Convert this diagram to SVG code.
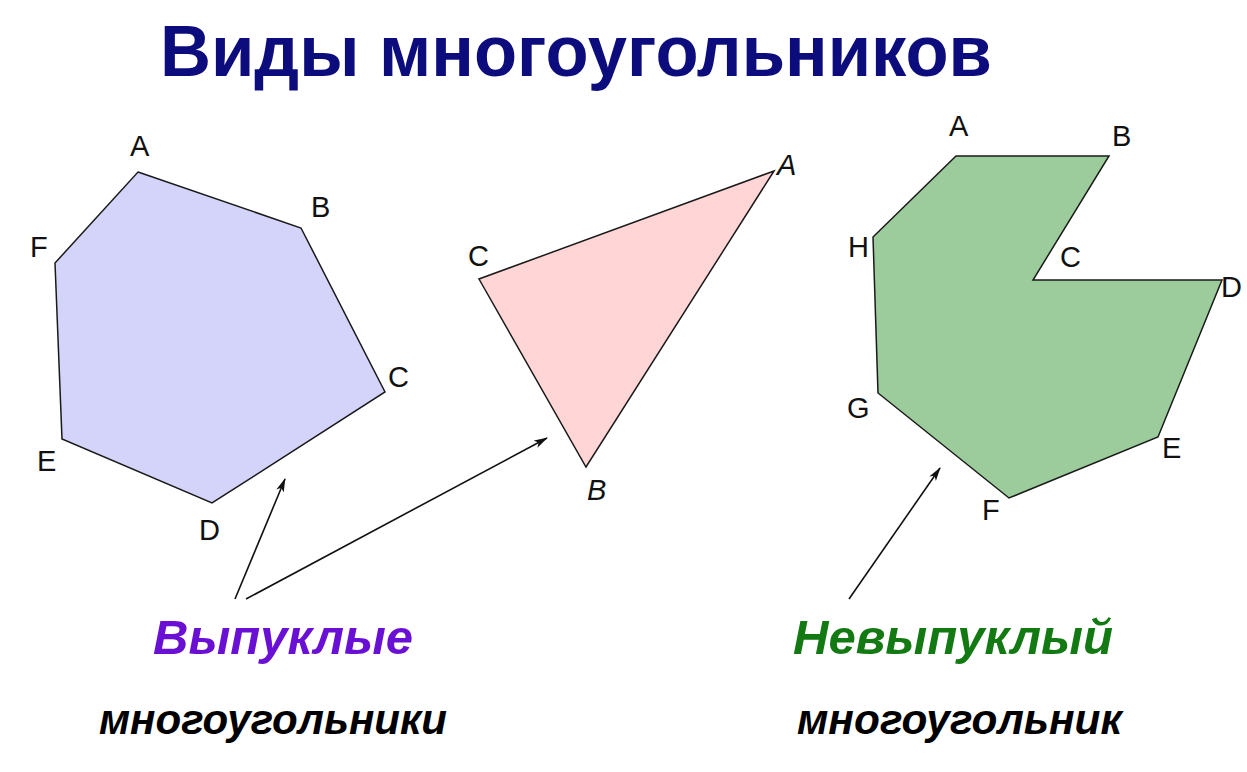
<svg xmlns="http://www.w3.org/2000/svg" width="1247" height="772" viewBox="0 0 1247 772">
<style>
.poly{stroke:#1a1a1a;stroke-width:1.5;stroke-linejoin:miter}
.lbl{font-family:"Liberation Sans",Arial,sans-serif;font-size:29px;fill:#111}
.it{font-style:italic}
.big{font-family:"Liberation Sans",Arial,sans-serif;font-weight:bold;font-style:italic}
.conn{stroke:#111;stroke-width:1.6;fill:none}
</style>
<defs>
<marker id="ah" viewBox="0 0 14 9" refX="13" refY="4.5" markerWidth="14" markerHeight="9" markerUnits="userSpaceOnUse" orient="auto">
<path d="M0,0.5 L14,4.5 L0,8.5 L3.5,4.5 Z" fill="#111"/>
</marker>
</defs>
<rect width="1247" height="772" fill="#ffffff"/>
<g id="title">
<text x="160" y="76" font-family="Liberation Sans,Arial,sans-serif" font-weight="bold" font-size="73" fill="#0c0c7c" textLength="832" lengthAdjust="spacingAndGlyphs">Виды многоугольников</text>
</g>
<g id="hexagon">
<polygon class="poly" fill="#d4d4fb" points="138,172 301,228 385,392 212,503 62,439 55,263"/>
<text class="lbl" x="130" y="156">A</text>
<text class="lbl" x="311" y="217">B</text>
<text class="lbl" x="388" y="387">C</text>
<text class="lbl" x="199" y="540">D</text>
<text class="lbl" x="37" y="471">E</text>
<text class="lbl" x="30" y="257">F</text>
</g>
<g id="triangle">
<polygon class="poly" fill="#ffd5d5" points="774,171 586,467 479,279"/>
<text class="lbl it" x="777" y="175">A</text>
<text class="lbl it" x="587" y="500">B</text>
<text class="lbl" x="468" y="266">C</text>
</g>
<g id="concave">
<polygon class="poly" fill="#9ccc9c" points="956,156 1109,156 1033,280 1222,280 1158,437 1009,498 878,393 873,237"/>
<text class="lbl" x="949" y="136">A</text>
<text class="lbl" x="1112" y="146">B</text>
<text class="lbl" x="1060" y="267">C</text>
<text class="lbl" x="1221" y="297">D</text>
<text class="lbl" x="1162" y="458">E</text>
<text class="lbl" x="982" y="520">F</text>
<text class="lbl" x="847" y="418">G</text>
<text class="lbl" x="848" y="257">H</text>
</g>
<g id="connectors">
<line class="conn" x1="235" y1="599" x2="285" y2="479" marker-end="url(#ah)"/>
<line class="conn" x1="246" y1="599" x2="547" y2="438" marker-end="url(#ah)"/>
<line class="conn" x1="849" y1="599" x2="940" y2="468" marker-end="url(#ah)"/>
</g>
<g id="label-convex">
<text class="big" x="153" y="654" font-size="48" fill="#6a10d4" textLength="260" lengthAdjust="spacingAndGlyphs">Выпуклые</text>
<text class="big" x="99" y="734" font-size="42" fill="#000" textLength="348" lengthAdjust="spacingAndGlyphs">многоугольники</text>
</g>
<g id="label-concave">
<text class="big" x="793" y="654" font-size="48" fill="#137a13" textLength="320" lengthAdjust="spacingAndGlyphs">Невыпуклый</text>
<text class="big" x="797" y="734" font-size="42" fill="#000" textLength="325" lengthAdjust="spacingAndGlyphs">многоугольник</text>
</g>
</svg>
